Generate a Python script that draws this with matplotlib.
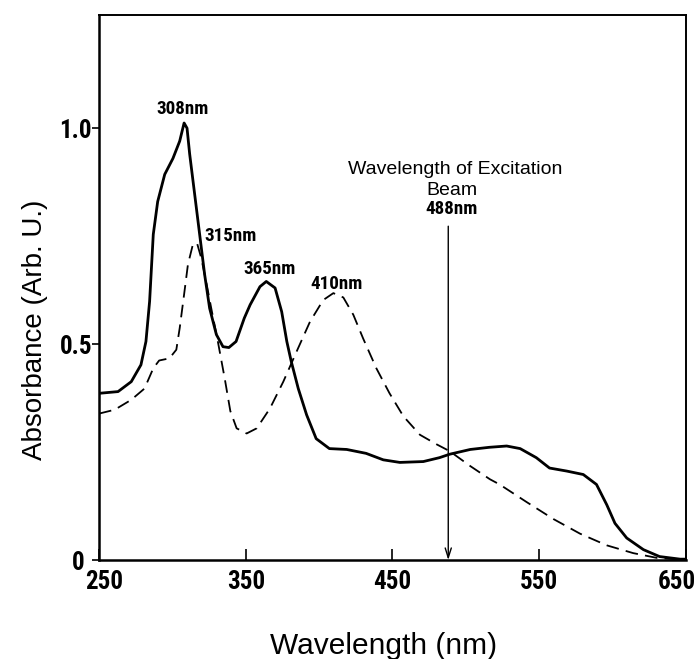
import matplotlib
matplotlib.use("Agg")
import matplotlib.pyplot as plt
from matplotlib import font_manager as fm
from matplotlib.transforms import ScaledTranslation

# solid curve (nm, absorbance)
wl_solid = [250, 263, 272, 278.6, 282, 284.5, 287, 290, 294.8, 300.4, 305, 308, 310,
            311.8, 315.2, 318.6, 322, 325.4, 330, 334.5, 338.5, 343.4, 349, 353, 359.7,
            364, 370, 374.5, 378, 381, 385.8, 391.5, 398, 407, 418.8, 432, 443.7, 455,
            471, 482, 489, 503, 516, 527.8, 537, 548, 557, 568.7, 580, 589, 596, 601.6,
            609.6, 621, 632, 646, 650]
abs_solid = [0.386, 0.39, 0.413, 0.452, 0.506, 0.599, 0.754, 0.83, 0.893, 0.93, 0.97,
             1.012, 1.0, 0.94, 0.847, 0.754, 0.661, 0.583, 0.522, 0.494, 0.492, 0.506,
             0.56, 0.591, 0.633, 0.645, 0.63, 0.575, 0.506, 0.46, 0.397, 0.336, 0.281,
             0.258, 0.256, 0.247, 0.232, 0.226, 0.228, 0.237, 0.245, 0.256, 0.261, 0.264,
             0.258, 0.237, 0.213, 0.206, 0.198, 0.175, 0.128, 0.085, 0.051, 0.024, 0.008,
             0.002, 0.002]

# dashed curve
wl_dash = [250, 260.7, 272, 281, 287, 291, 298, 302.7, 305, 308, 310.6, 314, 316.8,
           319.7, 323, 326.5, 331, 335.7, 339.5, 343.8, 350.6, 357.5, 366.5, 375.6,
           384.7, 393.8, 402.8, 409.7, 416.5, 423.3, 430, 439, 448, 457.4, 468.7, 480,
           489, 502.8, 516.4, 523, 541.5, 559.6, 577.8, 596, 614, 630, 650]
abs_dash = [0.339, 0.348, 0.371, 0.397, 0.444, 0.462, 0.467, 0.487, 0.537, 0.615, 0.684,
            0.731, 0.734, 0.699, 0.645, 0.583, 0.506, 0.42, 0.345, 0.305, 0.293, 0.305,
            0.351, 0.413, 0.483, 0.552, 0.602, 0.618, 0.608, 0.568, 0.513, 0.444, 0.386,
            0.333, 0.29, 0.268, 0.252, 0.218, 0.187, 0.175, 0.134, 0.095, 0.061, 0.034,
            0.016, 0.005, 0.0]

peak_labels = [("308nm", 307, 1.045, "center"),
               ("315nm", 322, 0.75, "left"),
               ("365nm", 366.5, 0.675, "center"),
               ("410nm", 412, 0.638, "center")]
excitation_nm = 488

# narrow font for the numbers, if one is around
names = {f.name for f in fm.fontManager.ttflist}
narrow_kw = dict(family=["DejaVu Sans"], fontweight="bold", fontsize=13)
for cand in ["Liberation Sans Narrow", "Roboto Condensed", "Open Sans Condensed"]:
    if cand in names:
        narrow_kw = dict(family=[cand, "DejaVu Sans"], fontweight="bold", fontsize=18)
        break
else:
    if any(f.name == "DejaVu Sans" and f.stretch == "condensed" for f in fm.fontManager.ttflist):
        narrow_kw = dict(family=["DejaVu Sans"], fontweight="bold", fontsize=16,
                         fontstretch="condensed")
    elif "Roboto" in names:
        narrow_kw = dict(family=["Roboto", "DejaVu Sans"], fontweight="bold", fontsize=15.5)
tick_size = narrow_kw["fontsize"]
ann_kw = dict(narrow_kw, fontsize=tick_size * 0.76)
plain = ["Liberation Sans", "DejaVu Sans"]

fig = plt.figure(figsize=(6.99, 6.59), dpi=100)
ax = fig.add_axes([0.1416, 0.1502, 0.8398, 0.827])

ax.plot(wl_solid, abs_solid, color="black", lw=2.0, solid_joinstyle="round")
ax.plot(wl_dash, abs_dash, color="black", lw=1.3, dashes=(7, 4))

ax.set_xlim(250, 650)
ax.set_ylim(0, 1.262)
ax.set_xticks([250, 350, 450, 550, 650])
ax.set_yticks([0, 0.5, 1.0])
ax.set_yticklabels(["0", "0.5", "1.0"])
ax.tick_params(axis="x", direction="in", length=8, width=1.2, pad=7)
ax.tick_params(axis="y", direction="out", length=5, width=1.2, pad=0)
for lab in ax.get_xticklabels() + ax.get_yticklabels():
    lab.set_family(narrow_kw["family"])
    lab.set_fontsize(tick_size)
    lab.set_fontweight("bold")
    if "fontstretch" in narrow_kw:
        lab.set_fontstretch("condensed")

# nudge the end labels like in the original
xl = ax.get_xticklabels()
xl[0].set_transform(xl[0].get_transform() + ScaledTranslation(5 / 100, 0, fig.dpi_scale_trans))
xl[-1].set_transform(xl[-1].get_transform() + ScaledTranslation(-9 / 100, 0, fig.dpi_scale_trans))
yl = ax.get_yticklabels()
yl[0].set_transform(yl[0].get_transform() + ScaledTranslation(-8 / 100, 0, fig.dpi_scale_trans))

for s in ["left", "bottom"]:
    ax.spines[s].set_linewidth(1.8)
for s in ["top", "right"]:
    ax.spines[s].set_linewidth(1.4)

for txt, x, y, ha in peak_labels:
    ax.text(x, y, txt, ha=ha, va="center", **ann_kw)

ax.text(492.5, 0.905, "Wavelength of Excitation", ha="center", va="center",
        fontsize=14, family=plain)
ax.text(490.5, 0.855, "Beam", ha="center", va="center", fontsize=14, family=plain)
ax.text(490.5, 0.812, "488nm", ha="center", va="center", **ann_kw)
ax.annotate("", xy=(excitation_nm, 0.0), xytext=(excitation_nm, 0.773),
            arrowprops=dict(arrowstyle="->,head_length=0.7,head_width=0.22",
                            lw=1.0, color="black", shrinkA=0, shrinkB=0))

fig.text(0.05, 0.5, "Absorbance (Arb. U.)", rotation=90, ha="center", va="center",
         fontsize=20, family=plain)
fig.text(384 / 699, 5 / 659, "Wavelength (nm)", ha="center", va="baseline",
         fontsize=21.5, family=plain)

fig.savefig("out.png", dpi=100)
